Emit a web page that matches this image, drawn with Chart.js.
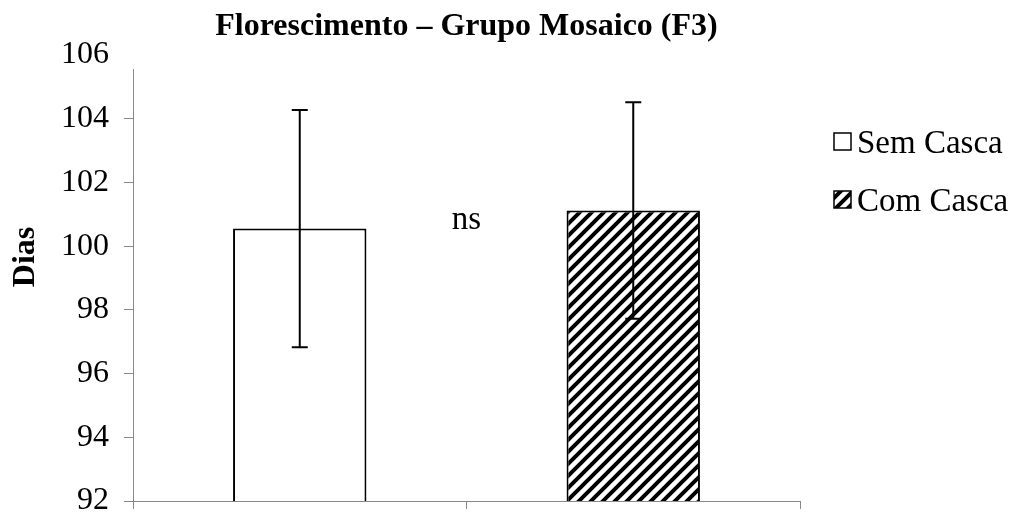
<!DOCTYPE html>
<html>
<head>
<meta charset="utf-8">
<script src="https://cdn.jsdelivr.net/npm/chart.js@4.4.0/dist/chart.umd.min.js"></script>
<style>
  html, body { margin: 0; padding: 0; background: #fff; }
  #wrap { width: 1016px; height: 516px; }
</style>
</head>
<body>
<div id="wrap"><canvas id="chart" width="1016" height="516"></canvas></div>
<script>
// --- Data ---
const groups = ["Sem Casca", "Com Casca"];
const meanDays = [100.55, 101.12];
const errDays = [3.72, 3.4];
const yTicks = [92, 94, 96, 98, 100, 102, 104, 106];

const SERIF = "'Liberation Serif', 'Times New Roman', serif";

// diagonal hatch for the second bar
function makeHatch() {
  const c = document.createElement("canvas");
  c.width = 12;
  c.height = 12;
  const g = c.getContext("2d");
  g.fillStyle = "#fff";
  g.fillRect(0, 0, 12, 12);
  g.strokeStyle = "#000";
  g.lineWidth = 4;
  g.beginPath();
  g.moveTo(-3, 15); g.lineTo(15, -3);
  g.moveTo(-9, 9); g.lineTo(9, -9);
  g.moveTo(3, 21); g.lineTo(21, 3);
  g.stroke();
  return g.createPattern(c, "repeat");
}
const hatch = makeHatch();

// title, axis title, error bars, "ns" and legend
const extras = {
  id: "extras",
  beforeDatasetsDraw(chart) {
    // y axis line (starts a little below the top tick, like the original)
    const ctx = chart.ctx;
    const a = chart.chartArea;
    ctx.save();
    ctx.strokeStyle = "#888";
    ctx.lineWidth = 1;
    ctx.beginPath();
    ctx.moveTo(a.left + 0.5, a.top + 14);
    ctx.lineTo(a.left + 0.5, a.bottom);
    ctx.stroke();
    ctx.restore();
  },
  afterDatasetsDraw(chart) {
    const ctx = chart.ctx;
    const meta = chart.getDatasetMeta(0);
    const y = chart.scales.y;
    const a = chart.chartArea;
    ctx.save();
    ctx.strokeStyle = "#000";
    ctx.lineWidth = 2;
    meta.data.forEach((bar, i) => {
      const top = y.getPixelForValue(meanDays[i] + errDays[i]);
      const bot = y.getPixelForValue(meanDays[i] - errDays[i]);
      ctx.beginPath();
      ctx.moveTo(bar.x, top); ctx.lineTo(bar.x, bot);
      ctx.moveTo(bar.x - 8, top); ctx.lineTo(bar.x + 8, top);
      ctx.moveTo(bar.x - 8, bot); ctx.lineTo(bar.x + 8, bot);
      ctx.stroke();
    });

    ctx.fillStyle = "#000";
    ctx.textBaseline = "alphabetic";
    ctx.textAlign = "center";

    ctx.font = "bold 32px " + SERIF;
    ctx.fillText("Florescimento – Grupo Mosaico (F3)", (a.left + a.right) / 2, 35);

    ctx.font = "33px " + SERIF;
    ctx.fillText("ns", (a.left + a.right) / 2, 229);

    ctx.save();
    ctx.translate(34, 257);
    ctx.rotate(-Math.PI / 2);
    ctx.font = "bold 32px " + SERIF;
    ctx.fillText("Dias", 0, 0);
    ctx.restore();

    // legend
    const fills = ["#fff", hatch];
    ctx.textAlign = "left";
    ctx.textBaseline = "middle";
    ctx.font = "33px " + SERIF;
    groups.forEach((name, i) => {
      const ly = 142 + i * 58;
      ctx.fillStyle = fills[i];
      ctx.fillRect(834, ly - 9, 17, 17);
      ctx.lineWidth = 1.5;
      ctx.strokeStyle = "#000";
      ctx.strokeRect(834, ly - 9, 17, 17);
      ctx.fillStyle = "#000";
      ctx.fillText(name, 857, ly + 2);
    });
    ctx.restore();
  }
};

new Chart(document.getElementById("chart"), {
  type: "bar",
  data: {
    labels: groups,
    datasets: [{
      data: meanDays,
      backgroundColor: ["#fff", hatch],
      borderColor: "#000",
      borderWidth: 2,
      borderSkipped: false,
      categoryPercentage: 1,
      barPercentage: 0.4
    }]
  },
  options: {
    responsive: false,
    animation: false,
    layout: { padding: { left: 10, right: 216, top: 55, bottom: 5 } },
    plugins: {
      legend: { display: false },
      tooltip: { enabled: false },
      title: { display: false }
    },
    scales: {
      x: {
        afterFit: (s) => { s.height = 10; },
        grid: { offset: true, drawOnChartArea: false, color: "#888", tickLength: 8 },
        border: { color: "#888", width: 1 },
        ticks: { display: false }
      },
      y: {
        min: 92,
        max: 106,
        afterBuildTicks: (axis) => { axis.ticks = yTicks.map(v => ({ value: v })); },
        afterFit: (s) => { s.width = 123; s.paddingTop = 0; s.paddingBottom = 0; },
        grid: {
          drawOnChartArea: false,
          tickLength: 9,
          color: (c) => (c.tick && c.tick.value === 106 ? "rgba(0,0,0,0)" : "#888")
        },
        border: { display: false },
        ticks: { color: "#000", font: { family: SERIF, size: 32 }, padding: 15 }
      }
    }
  },
  plugins: [extras]
});
</script>
</body>
</html>
